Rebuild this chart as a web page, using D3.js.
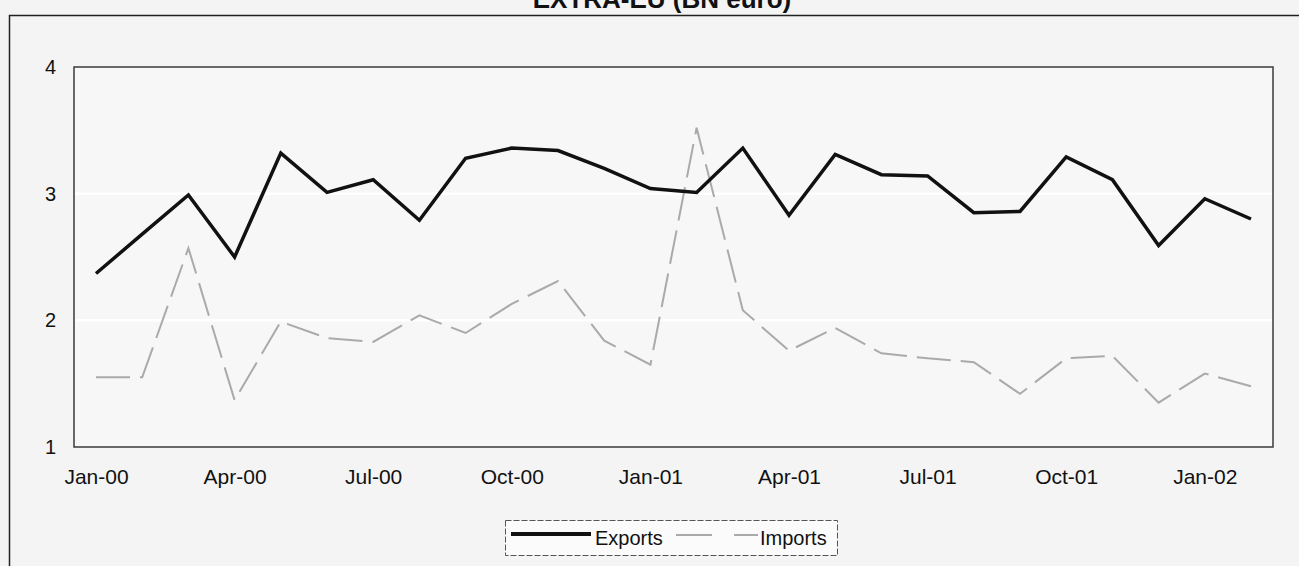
<!DOCTYPE html>
<html>
<head>
<meta charset="utf-8">
<script src="https://cdn.jsdelivr.net/npm/d3@7"></script>
<style>
  html, body { margin: 0; padding: 0; background: #f4f4f4; }
  svg { display: block; font-family: "Liberation Sans", Arial, sans-serif; }
</style>
</head>
<body>
<svg id="chart" width="1299" height="566"></svg>
<script>
const months = ["Jan-00","Feb-00","Mar-00","Apr-00","May-00","Jun-00","Jul-00","Aug-00","Sep-00","Oct-00","Nov-00","Dec-00",
                "Jan-01","Feb-01","Mar-01","Apr-01","May-01","Jun-01","Jul-01","Aug-01","Sep-01","Oct-01","Nov-01","Dec-01",
                "Jan-02","Feb-02"];
const exportsData = [2.37,2.68,2.99,2.50,3.32,3.01,3.11,2.79,3.28,3.36,3.34,3.20,
                     3.04,3.01,3.36,2.83,3.31,3.15,3.14,2.85,2.86,3.29,3.11,2.59,
                     2.96,2.80];
const importsData = [1.55,1.55,2.57,1.37,1.99,1.86,1.83,2.04,1.90,2.13,2.31,1.84,
                     1.65,3.52,2.08,1.76,1.94,1.74,1.70,1.67,1.42,1.70,1.72,1.35,
                     1.58,1.48];
const xTickLabels = ["Jan-00","Apr-00","Jul-00","Oct-00","Jan-01","Apr-01","Jul-01","Oct-01","Jan-02"];
const yTicks = [1,2,3,4];
const titleText = "EXTRA-EU  (BN euro)";
const seriesNames = ["Exports","Imports"];

const svg = d3.select("#chart");
const W = 1299, H = 566;
const plot = {left: 74, right: 1273, top: 67, bottom: 447};

const x = d3.scaleLinear().domain([0, months.length - 1]).range([96, 1251]);
const y = d3.scaleLinear().domain([1, 4]).range([plot.bottom, plot.top]);

// outer frame
svg.append("path")
  .attr("d", `M9.5,${H} L9.5,15.5 L${W},15.5`)
  .attr("fill", "none").attr("stroke", "#222").attr("stroke-width", 1.5);

// title
svg.append("text").attr("x", 662).attr("y", 8)
  .attr("text-anchor", "middle").attr("font-size", 26).attr("font-weight", "bold")
  .attr("fill", "#111").text(titleText);

// plot area
svg.append("rect")
  .attr("x", plot.left).attr("y", plot.top)
  .attr("width", plot.right - plot.left).attr("height", plot.bottom - plot.top)
  .attr("fill", "#f7f7f7");

// gridlines
svg.append("g").selectAll("line").data(yTicks.filter(d => d > 1 && d < 4)).join("line")
  .attr("x1", plot.left).attr("x2", plot.right)
  .attr("y1", d => y(d)).attr("y2", d => y(d))
  .attr("stroke", "#ffffff").attr("stroke-width", 2.5);

svg.append("rect")
  .attr("x", plot.left).attr("y", plot.top)
  .attr("width", plot.right - plot.left).attr("height", plot.bottom - plot.top)
  .attr("fill", "none").attr("stroke", "#3a3a3a").attr("stroke-width", 1.5);

// y axis labels
const yAxis = d3.axisLeft(y).tickValues(yTicks).tickSize(0).tickPadding(18).tickFormat(d3.format("d"));
const gy = svg.append("g").attr("transform", `translate(${plot.left},0)`).call(yAxis);
gy.select(".domain").remove();
gy.selectAll("text").attr("font-size", 20).attr("fill", "#111")
  .attr("font-family", "'Liberation Sans', Arial, sans-serif");

// x axis labels
const xTickIdx = xTickLabels.map(l => months.indexOf(l));
const xAxis = d3.axisBottom(x).tickValues(xTickIdx).tickSize(0).tickPadding(22)
  .tickFormat(i => months[i]);
const gx = svg.append("g").attr("transform", `translate(0,${plot.bottom})`).call(xAxis);
gx.select(".domain").remove();
gx.selectAll("text").attr("font-size", 21).attr("fill", "#111")
  .attr("font-family", "'Liberation Sans', Arial, sans-serif");

const line = d3.line().x((d, i) => x(i)).y(d => y(d));

svg.append("path").datum(importsData)
  .attr("d", line).attr("fill", "none")
  .attr("stroke", "#aaaaaa").attr("stroke-width", 2)
  .attr("stroke-dasharray", "34,10");

svg.append("path").datum(exportsData)
  .attr("d", line).attr("fill", "none")
  .attr("stroke", "#111").attr("stroke-width", 3.5)
  .attr("stroke-linejoin", "miter");

// legend
const lg = svg.append("g");
lg.append("rect").attr("x", 505.5).attr("y", 520.5).attr("width", 332).attr("height", 35)
  .attr("fill", "#fbfbfb").attr("stroke", "#555").attr("stroke-width", 1).attr("stroke-dasharray", "6,2");
lg.append("line").attr("x1", 511).attr("x2", 591).attr("y1", 534).attr("y2", 534)
  .attr("stroke", "#111").attr("stroke-width", 4);
lg.append("text").attr("x", 595).attr("y", 545).attr("font-size", 20).attr("fill", "#111").text(seriesNames[0]);
lg.append("line").attr("x1", 676).attr("x2", 758).attr("y1", 535).attr("y2", 535)
  .attr("stroke", "#aaaaaa").attr("stroke-width", 2).attr("stroke-dasharray", "36,22");
lg.append("text").attr("x", 760).attr("y", 545).attr("font-size", 20).attr("fill", "#111").text(seriesNames[1]);
</script>
</body>
</html>
